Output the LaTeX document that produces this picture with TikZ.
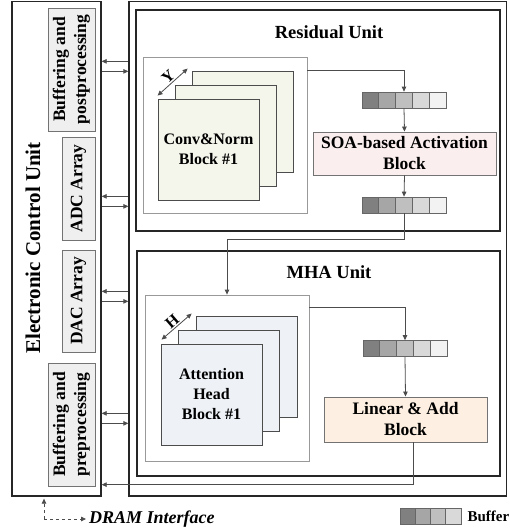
\documentclass[tikz,border=0pt]{standalone}
\usepackage{fontspec}
\setmainfont{Liberation Serif}
\usepackage{xcolor}
\usetikzlibrary{positioning,calc,arrows.meta}

\definecolor{labelgray}{HTML}{EFEFEF}
\definecolor{convfill}{HTML}{F4F6EC}
\definecolor{attnfill}{HTML}{EEF2F7}
\definecolor{soafill}{HTML}{FBEEEE}
\definecolor{linfill}{HTML}{FDF0E2}

\begin{document}
\begin{tikzpicture}[x=1pt, y=-1pt,
  >={Triangle[length=5pt,width=4.5pt]},
  unitbox/.style={draw=black!85, line width=1.3pt, inner sep=0pt},
  frame/.style={draw=black!40, line width=0.8pt, fill=white, inner sep=0pt},
  sq/.style={draw=black!70, line width=0.8pt, minimum width=101pt, minimum height=101pt, inner sep=0pt},
  lblbox/.style={draw=black!55, fill=labelgray, line width=0.9pt, rotate=90, inner sep=0pt, align=center, font=\fontsize{17.5}{21}\selectfont\bfseries},
  block/.style={draw=black!55, line width=0.9pt, inner sep=0pt, align=center, font=\fontsize{17.5}{21}\selectfont\bfseries},
  conn/.style={draw=black!70, line width=0.8pt},
  cells/.style n args={2}{inner sep=0pt, minimum height=16pt, draw=black!60, line width=0.7pt,
    path picture={\foreach \g [count=\i from 0] in {#2}
      \draw[black!60, fill=black!\g] ($(path picture bounding box.south west)+(\i*#1,0pt)$) rectangle ++(#1,16pt);}},
]
\useasboundingbox (0,0) rectangle (510,529);

% control unit on the left
\node[unitbox, minimum width=89, minimum height=494.5] (ecu) at (56.5,248.75) {};
\node[rotate=90, font=\fontsize{21}{25}\selectfont\bfseries] (ecutitle) at (33,248) {Electronic Control Unit};
\node[lblbox, minimum width=123, minimum height=47] (postbuf) at (71.5,69.5) {Buffering and\\postprocessing};
\node[lblbox, minimum width=103, minimum height=33] (adc) at (78.5,188.5) {ADC Array};
\node[lblbox, minimum width=102, minimum height=33] (dac) at (78.5,301) {DAC Array};
\node[lblbox, minimum width=123, minimum height=47] (prebuf) at (71.5,424.5) {Buffering and\\preprocessing};

% accelerator
\node[unitbox, minimum width=377.5, minimum height=494.5] (main) at (317.75,248.75) {};
\node[unitbox, minimum width=364, minimum height=221] (resid) at (318,120.5) {};
\node[unitbox, minimum width=363, minimum height=225] (mha) at (318.5,363.5) {};
\node[font=\fontsize{18.5}{22}\selectfont\bfseries] (residtitle) at (329,32) {Residual Unit};
\node[font=\fontsize{18.5}{22}\selectfont\bfseries] (mhatitle) at (329,272) {MHA Unit};

% residual unit
\node[frame, minimum width=164, minimum height=156] (convframe) at (225,135) {};
\foreach \k in {2,1}
  \node[sq, fill=convfill] (conv\k) at ($(208.5,149.5)+(\k*17,-\k*14)$) {};
\node[sq, fill=convfill, align=center, font=\fontsize{16}{20}\selectfont\bfseries] (conv0) at (208.5,149.5) {Conv\&Norm\\Block \#1};
\draw[conn, <->] ($(conv0.north west)+(0,-3)$) -- ($(conv2.north west)+(-4,-2)$)
  node[midway, sloped, above, inner sep=1pt, font=\fontsize{16}{18}\selectfont\bfseries] {Y};
\node[cells={16.8pt}{50,35,25,15,5}, minimum width=84pt] (buf1) at (404,100) {};
\node[block, fill=soafill, minimum width=183, minimum height=43] (soa) at (404.5,153.5) {SOA-based Activation\\Block};
\node[cells={16.8pt}{50,35,25,15,5}, minimum width=84pt] (buf2) at (404,205) {};

% mha unit
\node[frame, minimum width=164, minimum height=166] (attnframe) at (227,378) {};
\foreach \k in {2,1}
  \node[sq, fill=attnfill] (attn\k) at ($(211.5,394.5)+(\k*17.5,-\k*14)$) {};
\node[sq, fill=attnfill, align=center, font=\fontsize{16}{20}\selectfont\bfseries] (attn0) at (211.5,394.5) {Attention\\Head\\Block \#1};
\draw[conn, <->] ($(attn0.north west)+(1,-4)$) -- ($(attn2.north west)+(-4,-2)$)
  node[midway, sloped, above, inner sep=1pt, font=\fontsize{16}{18}\selectfont\bfseries] {H};
\node[cells={16.8pt}{50,35,25,15,5}, minimum width=84pt] (buf3) at (405,348.5) {};
\node[block, fill=linfill, minimum width=163, minimum height=45] (lin) at (405.5,419.5) {Linear \& Add\\Block};

% data flow
\draw[conn, ->] ($(convframe.north east)+(0,14)$) -| (buf1.north);
\draw[conn, ->] (buf1.south) -- (soa.north);
\draw[conn, ->] (soa.south) -- (buf2.north);
\draw[conn, ->] (buf2.south) |- ($(attnframe.north)+(0,-55)$) -- (attnframe.north);
\draw[conn, ->] ($(attnframe.north east)+(0,13)$) -| (buf3.north);
\draw[conn, ->] (buf3.south) -- (lin.north);
\draw[conn, ->] ($(lin.south)+(8,0)$) |- ($(ecu.south east)+(0,-12)$);

% links to the control unit
\foreach \a/\b in {62/72,197/207,292/302,414/424} {
  \draw[conn, ->] ($(main.north west)+(0,\a-1.5)$) -- ($(ecu.north east)+(0,\a-1.5)$);
  \draw[conn, ->] ($(ecu.north east)+(0,\b-1.5)$) -- ($(main.north west)+(0,\b-1.5)$);
}

% dram interface
\coordinate (dram) at (44,519);
\node[anchor=west, inner sep=0pt, font=\fontsize{18}{22}\selectfont\bfseries\itshape] (dramtxt) at (89,519) {DRAM Interface};
\draw[conn, dashed, ->] (dram) -- ($(dram |- ecu.south)+(0,2)$);
\draw[conn, dashed, ->] (dram) -- ($(dramtxt.west)+(-3,0)$);

% legend
\node[cells={15.25pt}{50,35,25,15}, minimum width=61pt] (legbuf) at (430.5,516) {};
\node[right=6pt of legbuf, inner sep=0pt, font=\fontsize{15}{18}\selectfont\bfseries] (legtxt) {Buffer};
\end{tikzpicture}
\end{document}
